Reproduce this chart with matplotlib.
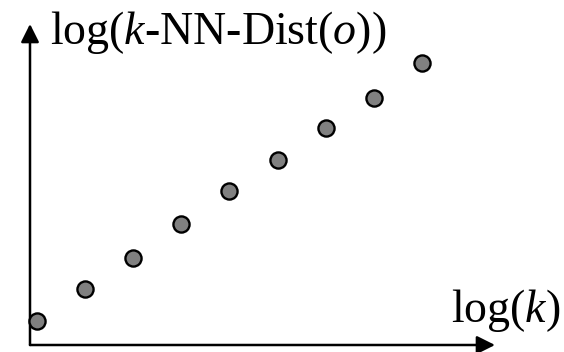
import matplotlib
matplotlib.use('Agg')
import matplotlib.pyplot as plt

# log(k) against log(k-NN-Dist(o)) (arbitrary units)
log_k = [0, 1, 2, 3, 4, 5, 6, 7, 8]
log_dist = [0.0, 1.0, 1.97, 3.03, 4.06, 5.03, 6.0, 6.94, 8.03]

x_label = r'log($k$)'
y_label = r'log($k$-NN-Dist($o$))'

plt.rcParams['font.family'] = ['Liberation Serif', 'DejaVu Serif']
plt.rcParams['mathtext.fontset'] = 'custom'
plt.rcParams['mathtext.rm'] = 'Liberation Serif'
plt.rcParams['mathtext.it'] = 'Liberation Serif:italic'

W, H = 564, 352
fig = plt.figure(figsize=(W / 100, H / 100), dpi=100)
ax = fig.add_axes([0, 0, 1, 1])
ax.axis('off')

# data -> pixel scale: x=0 at px 37, 48.1 px per unit; y=0 at px 321, 32.1 px per unit
sx, sy = 48.1, 32.1
x0, y0 = 37, 321
ax.set_xlim(-x0 / sx, (W - x0) / sx)
ax.set_ylim(-(H - y0) / sy, y0 / sy)

# axes with arrow heads
ox = (30 - x0) / sx
oy = -(345 - y0) / sy
arrow = dict(arrowstyle='-|>,head_length=1.1,head_width=0.55', color='black',
             lw=1.8, shrinkA=0, shrinkB=0)
ax.annotate('', xy=(ox, (y0 - 24) / sy), xytext=(ox, oy), arrowprops=arrow)
ax.annotate('', xy=((495 - x0) / sx, oy), xytext=(ox, oy), arrowprops=arrow)

ax.scatter(log_k, log_dist, s=135, c='#808080', edgecolors='black',
           linewidths=1.7, zorder=3, clip_on=False)

fig.text(50 / W, 1 - 44 / H, y_label, fontsize=33, va='baseline', ha='left')
fig.text(451 / W, 1 - 322 / H, x_label, fontsize=33, va='baseline', ha='left')

fig.savefig('out.png', dpi=100)
